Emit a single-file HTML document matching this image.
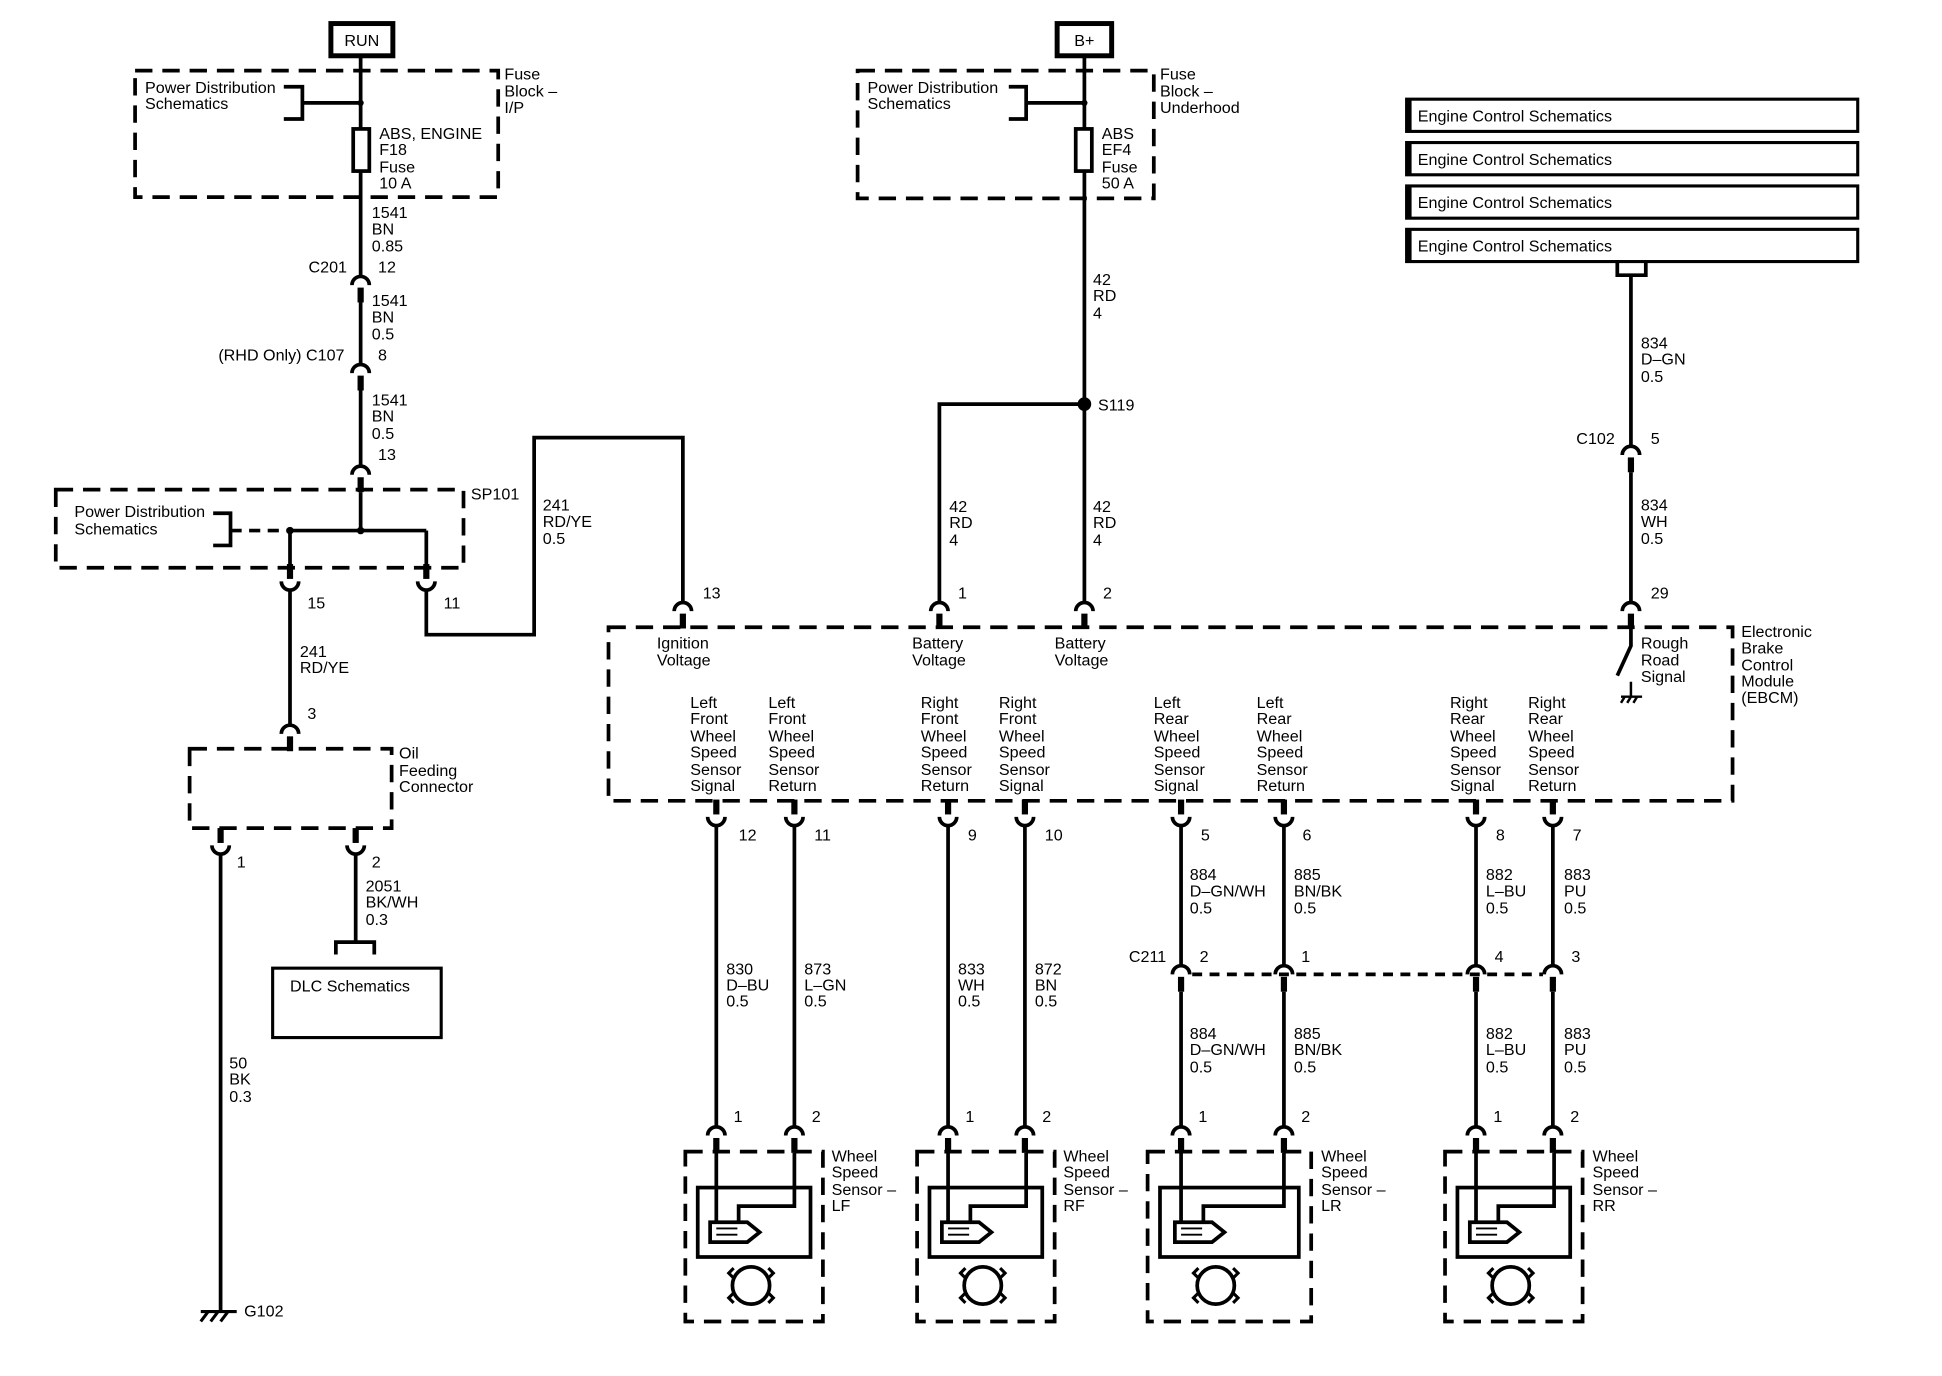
<!DOCTYPE html>
<html><head><meta charset="utf-8"><style>
html,body{margin:0;padding:0;background:#fff;}
svg{display:block;}
text{font-family:"Liberation Sans",Arial,sans-serif;font-size:13px;fill:#000;}
</style></head><body>
<svg width="1942" height="1376" viewBox="0 0 1567 1110" preserveAspectRatio="none" xmlns="http://www.w3.org/2000/svg">
<defs>
<g id="ct"><path d="M-7,8 A7,7 0 0 1 7,8" stroke="#000" stroke-width="3" fill="none"/><rect x="-2.5" y="10" width="5" height="12" fill="#000"/></g>
<g id="cb"><path d="M-7,-8 A7,7 0 0 0 7,-8" stroke="#000" stroke-width="3" fill="none"/><rect x="-2.5" y="-22" width="5" height="12" fill="#000"/></g>
</defs>
<g stroke="#000" stroke-width="3" fill="none">
<!-- RUN -->
<rect x="267" y="19" width="50" height="26" stroke-width="4"/>
<line x1="291" y1="45" x2="291" y2="222"/>
<rect x="109" y="57" width="293" height="102" stroke-dasharray="14,8"/>
<path d="M229,70 H244 V96 H229 M244,83 H291"/>
<rect x="285" y="104" width="13" height="34" fill="#fff"/>
<line x1="291" y1="244" x2="291" y2="293"/>
<line x1="291" y1="315" x2="291" y2="375"/>
<rect x="45" y="395" width="329" height="63" stroke-dasharray="14,8"/>
<line x1="291" y1="397" x2="291" y2="428"/>
<path d="M234,428 H344"/>
<path d="M172,414 H186 V440 H172"/>
<line x1="186" y1="428" x2="234" y2="428" stroke-dasharray="9,6"/>
<line x1="234" y1="428" x2="234" y2="456"/>
<line x1="344" y1="428" x2="344" y2="456"/>
<line x1="234" y1="477" x2="234" y2="584"/>
<path d="M344,477 V512 H431 V353 H551 V485"/>
<rect x="153" y="604" width="163" height="64" stroke-dasharray="14,8"/>
<line x1="178" y1="690" x2="178" y2="1058"/>
<line x1="287" y1="690" x2="287" y2="760"/>
<path d="M271,770 V760 H302 V770"/>
<rect x="220" y="781" width="136" height="56" stroke-width="2.5"/>
<path d="M162,1058 H191 M168,1058 l-6,8 M176,1058 l-6,8 M184,1058 l-6,8" stroke-width="2.5"/>
<!-- B+ -->
<rect x="853" y="19" width="44" height="26" stroke-width="4"/>
<line x1="875" y1="45" x2="875" y2="485"/>
<rect x="692" y="57" width="239" height="103" stroke-dasharray="14,8"/>
<path d="M814,70 H828 V96 H814 M828,83 H875"/>
<rect x="868" y="104" width="13" height="34" fill="#fff"/>
<path d="M758,485 V326 H875"/>
<!-- Engine control -->
<rect x="1135" y="80" width="364" height="26" stroke-width="2.5"/>
<rect x="1135" y="115" width="364" height="26" stroke-width="2.5"/>
<rect x="1135" y="150" width="364" height="26" stroke-width="2.5"/>
<rect x="1135" y="185" width="364" height="26" stroke-width="2.5"/>
<line x1="1137" y1="80" x2="1137" y2="211" stroke-width="4" stroke-dasharray="26,9"/>
<path d="M1305,212 V222 H1328 V212"/>
<line x1="1316" y1="222" x2="1316" y2="359"/>
<line x1="1316" y1="381" x2="1316" y2="485"/>
<!-- EBCM -->
<rect x="491" y="506" width="907" height="140" stroke-dasharray="14,8"/>
<path d="M1316,506 V521 L1305,545" />
<path d="M1316,550 V562 M1308,562 H1325 M1311,562 l-3,5 M1316,562 l-3,5 M1321,562 l-3,5" stroke-width="2"/>
<!-- lower wires -->
<line x1="578" y1="667" x2="578" y2="908"/>
<line x1="641" y1="667" x2="641" y2="908"/>
<line x1="765" y1="667" x2="765" y2="908"/>
<line x1="827" y1="667" x2="827" y2="908"/>
<line x1="953" y1="667" x2="953" y2="778"/>
<line x1="1036" y1="667" x2="1036" y2="778"/>
<line x1="1191" y1="667" x2="1191" y2="778"/>
<line x1="1253" y1="667" x2="1253" y2="778"/>
<line x1="953" y1="800" x2="953" y2="908"/>
<line x1="1036" y1="800" x2="1036" y2="908"/>
<line x1="1191" y1="800" x2="1191" y2="908"/>
<line x1="1253" y1="800" x2="1253" y2="908"/>
<line x1="962" y1="786" x2="1245" y2="786" stroke-dasharray="8,6"/>
</g>
<!-- dots -->
<circle cx="291" cy="83" r="2.5"/><circle cx="875" cy="83" r="2.5"/>
<circle cx="291" cy="428" r="3"/><circle cx="234" cy="428" r="3"/>
<circle cx="875" cy="326" r="5.5"/>
<!-- connectors top-arc -->
<use href="#ct" x="291" y="222"/><use href="#ct" x="291" y="293"/><use href="#ct" x="291" y="375"/>
<use href="#ct" x="234" y="584"/>
<use href="#ct" x="551" y="485"/><use href="#ct" x="758" y="485"/><use href="#ct" x="875" y="485"/><use href="#ct" x="1316" y="485"/>
<use href="#ct" x="1316" y="359"/>
<use href="#ct" x="953" y="778"/><use href="#ct" x="1036" y="778"/><use href="#ct" x="1191" y="778"/><use href="#ct" x="1253" y="778"/>
<use href="#ct" x="578" y="908"/><use href="#ct" x="641" y="908"/><use href="#ct" x="765" y="908"/><use href="#ct" x="827" y="908"/>
<use href="#ct" x="953" y="908"/><use href="#ct" x="1036" y="908"/><use href="#ct" x="1191" y="908"/><use href="#ct" x="1253" y="908"/>
<!-- connectors bottom-arc -->
<use href="#cb" x="234" y="477"/><use href="#cb" x="344" y="477"/>
<use href="#cb" x="178" y="690"/><use href="#cb" x="287" y="690"/>
<use href="#cb" x="578" y="667"/><use href="#cb" x="641" y="667"/><use href="#cb" x="765" y="667"/><use href="#cb" x="827" y="667"/>
<use href="#cb" x="953" y="667"/><use href="#cb" x="1036" y="667"/><use href="#cb" x="1191" y="667"/><use href="#cb" x="1253" y="667"/>
<!-- sensors -->
<g stroke="#000" stroke-width="3" fill="none">
<g id="s1">
<rect x="553" y="929" width="111" height="137" stroke-dasharray="14,8"/>
<rect x="563" y="958" width="91" height="56"/>
<path d="M578,930 V986"/>
<path d="M641,930 V973 H596 V986"/>
<path d="M573,986 H603 L613,994 L603,1002 H573 Z" fill="#fff"/>
<path d="M578,991 H595 M578,996 H595" stroke-width="1.5"/>
<circle cx="606" cy="1037" r="15"/>
<path d="M592,1023 l-4,4 4,4 M620,1023 l4,4 -4,4 M592,1051 l-4,-4 4,-4 M620,1051 l4,-4 -4,-4" stroke-width="2.5"/>
</g>
<use href="#s1" x="187" y="0" stroke="#000"/>
<g>
<rect x="926" y="929" width="132" height="137" stroke-dasharray="14,8"/>
<rect x="936" y="958" width="112" height="56"/>
<path d="M953,930 V986"/>
<path d="M1036,930 V973 H971 V986"/>
<path d="M948,986 H978 L988,994 L978,1002 H948 Z" fill="#fff"/>
<path d="M953,991 H970 M953,996 H970" stroke-width="1.5"/>
<circle cx="981" cy="1037" r="15"/>
<path d="M967,1023 l-4,4 4,4 M995,1023 l4,4 -4,4 M967,1051 l-4,-4 4,-4 M995,1051 l4,-4 -4,-4" stroke-width="2.5"/>
</g>
<use href="#s1" x="613" y="0"/>
</g>
<!-- texts -->
<text x="292" y="37" text-anchor="middle">RUN</text>
<text x="875" y="37" text-anchor="middle">B+</text>
<text x="117" y="75">Power Distribution</text><text x="117" y="88">Schematics</text>
<text x="407" y="64">Fuse</text><text x="407" y="78">Block –</text><text x="407" y="91">I/P</text>
<text x="306" y="112">ABS, ENGINE</text><text x="306" y="125">F18</text><text x="306" y="139">Fuse</text><text x="306" y="152">10 A</text>
<text x="300" y="176">1541</text><text x="300" y="189">BN</text><text x="300" y="203">0.85</text>
<text x="280" y="220" text-anchor="end">C201</text><text x="305" y="220">12</text>
<text x="300" y="247">1541</text><text x="300" y="260">BN</text><text x="300" y="274">0.5</text>
<text x="278" y="291" text-anchor="end">(RHD Only) C107</text><text x="305" y="291">8</text>
<text x="300" y="327">1541</text><text x="300" y="340">BN</text><text x="300" y="354">0.5</text>
<text x="305" y="371">13</text>
<text x="380" y="403">SP101</text>
<text x="60" y="417">Power Distribution</text><text x="60" y="431">Schematics</text>
<text x="438" y="412">241</text><text x="438" y="425">RD/YE</text><text x="438" y="439">0.5</text>
<text x="248" y="491">15</text><text x="358" y="491">11</text>
<text x="242" y="530">241</text><text x="242" y="543">RD/YE</text>
<text x="248" y="580">3</text>
<text x="322" y="612">Oil</text><text x="322" y="626">Feeding</text><text x="322" y="639">Connector</text>
<text x="191" y="700">1</text><text x="300" y="700">2</text>
<text x="295" y="719">2051</text><text x="295" y="732">BK/WH</text><text x="295" y="746">0.3</text>
<text x="234" y="800">DLC Schematics</text>
<text x="185" y="862">50</text><text x="185" y="875">BK</text><text x="185" y="889">0.3</text>
<text x="197" y="1062">G102</text>
<text x="700" y="75">Power Distribution</text><text x="700" y="88">Schematics</text>
<text x="936" y="64">Fuse</text><text x="936" y="78">Block –</text><text x="936" y="91">Underhood</text>
<text x="889" y="112">ABS</text><text x="889" y="125">EF4</text><text x="889" y="139">Fuse</text><text x="889" y="152">50 A</text>
<text x="882" y="230">42</text><text x="882" y="243">RD</text><text x="882" y="257">4</text>
<text x="886" y="331">S119</text>
<text x="766" y="413">42</text><text x="766" y="426">RD</text><text x="766" y="440">4</text>
<text x="882" y="413">42</text><text x="882" y="426">RD</text><text x="882" y="440">4</text>
<text x="567" y="483">13</text><text x="773" y="483">1</text><text x="890" y="483">2</text><text x="1332" y="483">29</text>
<text x="1144" y="98">Engine Control Schematics</text>
<text x="1144" y="133">Engine Control Schematics</text>
<text x="1144" y="168">Engine Control Schematics</text>
<text x="1144" y="203">Engine Control Schematics</text>
<text x="1324" y="281">834</text><text x="1324" y="294">D–GN</text><text x="1324" y="308">0.5</text>
<text x="1303" y="358" text-anchor="end">C102</text><text x="1332" y="358">5</text>
<text x="1324" y="412">834</text><text x="1324" y="425">WH</text><text x="1324" y="439">0.5</text>
<text x="530" y="523">Ignition</text><text x="530" y="537">Voltage</text>
<text x="736" y="523">Battery</text><text x="736" y="537">Voltage</text>
<text x="851" y="523">Battery</text><text x="851" y="537">Voltage</text>
<text x="1324" y="523">Rough</text><text x="1324" y="537">Road</text><text x="1324" y="550">Signal</text>
<text x="1405" y="514">Electronic</text><text x="1405" y="527">Brake</text><text x="1405" y="541">Control</text><text x="1405" y="554">Module</text><text x="1405" y="567">(EBCM)</text>
<g>
<text x="557" y="571">Left</text><text x="557" y="584">Front</text><text x="557" y="598">Wheel</text><text x="557" y="611">Speed</text><text x="557" y="625">Sensor</text><text x="557" y="638">Signal</text>
<text x="620" y="571">Left</text><text x="620" y="584">Front</text><text x="620" y="598">Wheel</text><text x="620" y="611">Speed</text><text x="620" y="625">Sensor</text><text x="620" y="638">Return</text>
<text x="743" y="571">Right</text><text x="743" y="584">Front</text><text x="743" y="598">Wheel</text><text x="743" y="611">Speed</text><text x="743" y="625">Sensor</text><text x="743" y="638">Return</text>
<text x="806" y="571">Right</text><text x="806" y="584">Front</text><text x="806" y="598">Wheel</text><text x="806" y="611">Speed</text><text x="806" y="625">Sensor</text><text x="806" y="638">Signal</text>
<text x="931" y="571">Left</text><text x="931" y="584">Rear</text><text x="931" y="598">Wheel</text><text x="931" y="611">Speed</text><text x="931" y="625">Sensor</text><text x="931" y="638">Signal</text>
<text x="1014" y="571">Left</text><text x="1014" y="584">Rear</text><text x="1014" y="598">Wheel</text><text x="1014" y="611">Speed</text><text x="1014" y="625">Sensor</text><text x="1014" y="638">Return</text>
<text x="1170" y="571">Right</text><text x="1170" y="584">Rear</text><text x="1170" y="598">Wheel</text><text x="1170" y="611">Speed</text><text x="1170" y="625">Sensor</text><text x="1170" y="638">Signal</text>
<text x="1233" y="571">Right</text><text x="1233" y="584">Rear</text><text x="1233" y="598">Wheel</text><text x="1233" y="611">Speed</text><text x="1233" y="625">Sensor</text><text x="1233" y="638">Return</text>
</g>
<text x="596" y="678">12</text><text x="657" y="678">11</text><text x="781" y="678">9</text><text x="843" y="678">10</text>
<text x="969" y="678">5</text><text x="1051" y="678">6</text><text x="1207" y="678">8</text><text x="1269" y="678">7</text>
<text x="960" y="710">884</text><text x="960" y="723">D–GN/WH</text><text x="960" y="737">0.5</text>
<text x="1044" y="710">885</text><text x="1044" y="723">BN/BK</text><text x="1044" y="737">0.5</text>
<text x="1199" y="710">882</text><text x="1199" y="723">L–BU</text><text x="1199" y="737">0.5</text>
<text x="1262" y="710">883</text><text x="1262" y="723">PU</text><text x="1262" y="737">0.5</text>
<text x="941" y="776" text-anchor="end">C211</text>
<text x="968" y="776">2</text><text x="1050" y="776">1</text><text x="1206" y="776">4</text><text x="1268" y="776">3</text>
<text x="960" y="838">884</text><text x="960" y="851">D–GN/WH</text><text x="960" y="865">0.5</text>
<text x="1044" y="838">885</text><text x="1044" y="851">BN/BK</text><text x="1044" y="865">0.5</text>
<text x="1199" y="838">882</text><text x="1199" y="851">L–BU</text><text x="1199" y="865">0.5</text>
<text x="1262" y="838">883</text><text x="1262" y="851">PU</text><text x="1262" y="865">0.5</text>
<text x="586" y="786">830</text><text x="586" y="799">D–BU</text><text x="586" y="812">0.5</text>
<text x="649" y="786">873</text><text x="649" y="799">L–GN</text><text x="649" y="812">0.5</text>
<text x="773" y="786">833</text><text x="773" y="799">WH</text><text x="773" y="812">0.5</text>
<text x="835" y="786">872</text><text x="835" y="799">BN</text><text x="835" y="812">0.5</text>
<text x="592" y="905">1</text><text x="655" y="905">2</text><text x="779" y="905">1</text><text x="841" y="905">2</text>
<text x="967" y="905">1</text><text x="1050" y="905">2</text><text x="1205" y="905">1</text><text x="1267" y="905">2</text>
<text x="671" y="937">Wheel</text><text x="671" y="950">Speed</text><text x="671" y="964">Sensor –</text><text x="671" y="977">LF</text>
<text x="858" y="937">Wheel</text><text x="858" y="950">Speed</text><text x="858" y="964">Sensor –</text><text x="858" y="977">RF</text>
<text x="1066" y="937">Wheel</text><text x="1066" y="950">Speed</text><text x="1066" y="964">Sensor –</text><text x="1066" y="977">LR</text>
<text x="1285" y="937">Wheel</text><text x="1285" y="950">Speed</text><text x="1285" y="964">Sensor –</text><text x="1285" y="977">RR</text>
</svg>
</body></html>
